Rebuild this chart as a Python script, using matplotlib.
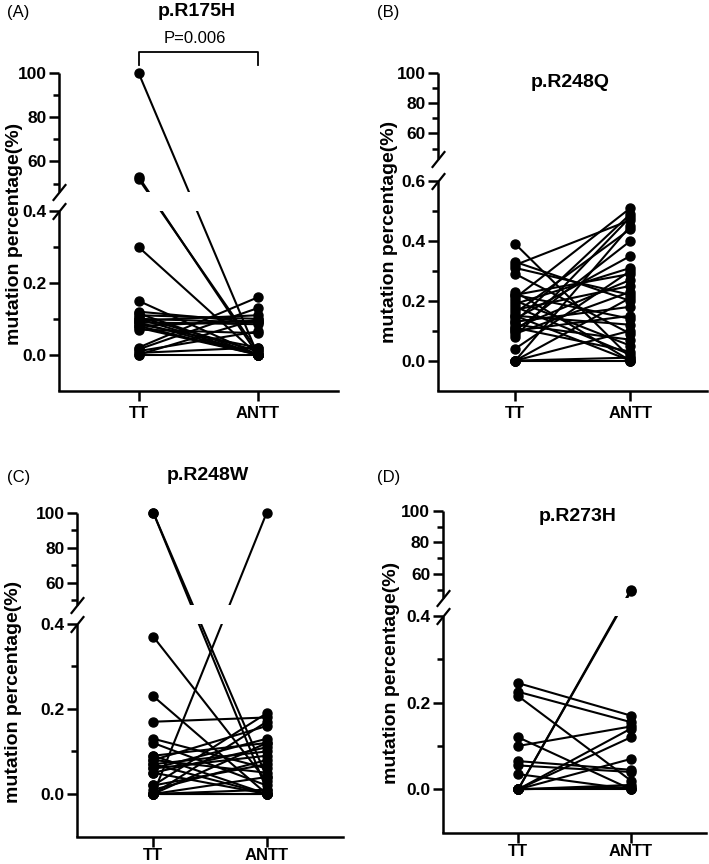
import numpy as np
import matplotlib
matplotlib.use('Agg')
import matplotlib.pyplot as plt
from matplotlib import transforms
from matplotlib.path import Path

plt.rcParams['font.family'] = ['Liberation Sans', 'Noto Sans CJK SC']

groups = ['TT', 'ANTT']

# p.R175H paired values (%)
r175h_tt = [100, 53, 52, 0.30, 0.15, 0.12, 0.115, 0.11, 0.105, 0.10, 0.10, 0.095, 0.09,
            0.09, 0.085, 0.08, 0.08, 0.075, 0.07, 0.02, 0.015, 0.01, 0.005, 0.0, 0.0]
r175h_antt = [0.0, 0.0, 0.01, 0.0, 0.0, 0.09, 0.0, 0.10, 0.01, 0.09, 0.0, 0.11, 0.0,
              0.085, 0.02, 0.0, 0.095, 0.0, 0.06, 0.16, 0.13, 0.065, 0.02, 0.10, 0.0]

# p.R248Q
r248q_tt = [0.39, 0.33, 0.32, 0.31, 0.29, 0.23, 0.22, 0.22, 0.21, 0.20, 0.19, 0.18, 0.17,
            0.16, 0.15, 0.15, 0.14, 0.13, 0.13, 0.12, 0.11, 0.11, 0.10, 0.10, 0.09, 0.08,
            0.04, 0.0, 0.0, 0.0, 0.0, 0.0]
r248q_antt = [0.01, 0.20, 0.47, 0.22, 0.09, 0.00, 0.29, 0.14, 0.51, 0.05, 0.31, 0.02, 0.25,
              0.44, 0.12, 0.00, 0.35, 0.49, 0.18, 0.07, 0.27, 0.03, 0.40, 0.15, 0.23, 0.48,
              0.30, 0.00, 0.01, 0.45, 0.10, 0.21]

# p.R248W
r248w_tt = [100, 100, 0.37, 0.23, 0.17, 0.13, 0.12, 0.09, 0.09, 0.08, 0.08, 0.07, 0.07,
            0.06, 0.06, 0.05, 0.05, 0.02, 0.02, 0.01, 0.0, 0.0, 0.0, 0.0, 0.0, 0.0, 0.0]
r248w_antt = [0.01, 0.04, 0.03, 0.0, 0.18, 0.06, 0.02, 0.12, 0.0, 0.16, 0.05, 0.10, 0.0,
              0.13, 0.09, 0.0, 0.11, 0.19, 0.07, 0.08, 100, 0.17, 0.0, 0.04, 0.12, 0.01, 0.0]

# p.R273H
r273h_tt = [0.245, 0.225, 0.215, 0.12, 0.10, 0.065, 0.055, 0.035, 0.0, 0.0, 0.0, 0.0,
            0.0, 0.0, 0.0, 0.0]
r273h_antt = [0.17, 0.155, 0.02, 0.0, 0.145, 0.045, 0.04, 0.0, 50, 49, 0.14, 0.12,
              0.07, 0.01, 0.0, 0.005]

W, H = 709, 864


def fx(x):
    return x / W


def fy(y):
    return 1 - y / H


def broken(lo_top, up_bot, gap, k):
    # piecewise linear scale: lower part linear, gap squeezed, upper part compressed
    span = up_bot - lo_top

    def fwd(y):
        y = np.asarray(y, dtype=float)
        mid = lo_top + (y - lo_top) / span * gap
        up = lo_top + gap + (y - up_bot) * k
        return np.where(y <= lo_top, y, np.where(y >= up_bot, up, mid))

    def inv(v):
        v = np.asarray(v, dtype=float)
        mid = lo_top + (v - lo_top) / gap * span
        up = up_bot + (v - lo_top - gap) / k
        return np.where(v <= lo_top, v, np.where(v >= lo_top + gap, up, mid))
    return fwd, inv


slash = Path([(-0.8, -1.0), (0.8, 1.0)], [Path.MOVETO, Path.LINETO])


def panel(left, top, width, height, tt, antt, lo_top, up_bot, gap, k, lo_major, lo_minor,
          xpad=4):
    ax = fig.add_axes([fx(left), fy(top + height), width / W, height / H])
    ax.set_yscale('function', functions=broken(lo_top, up_bot, gap, k))
    for a, b in zip(tt, antt):
        ax.plot([0, 1], [a, b], color='black', lw=1.5, marker='o', ms=6.5,
                zorder=2, clip_on=False)
    ax.axhspan(lo_top, up_bot, color='white', zorder=3, lw=0)

    for s in ['top', 'right', 'left']:
        ax.spines[s].set_visible(False)
    ax.spines['bottom'].set_linewidth(1.8)

    tr = transforms.blended_transform_factory(ax.transAxes, ax.transData)
    ax.plot([0, 0], [-0.1, lo_top], transform=tr, color='black', lw=1.8,
            clip_on=False, zorder=4, solid_capstyle='butt')
    ax.plot([0, 0], [up_bot, 100], transform=tr, color='black', lw=1.8,
            clip_on=False, zorder=4, solid_capstyle='butt')
    ax.plot([0, 0], [lo_top, up_bot], transform=tr, ls='none', marker=slash, ms=12,
            mew=1.6, color='black', clip_on=False, zorder=5)

    major = lo_major + [60, 80, 100]
    labels = ['%.1f' % v for v in lo_major] + ['60', '80', '100']
    ax.set_yticks(major, labels, fontweight='bold', fontsize=12.5)
    ax.set_yticks(lo_minor + [50, 70, 90], minor=True)
    ax.set_xticks([0, 1], groups, fontweight='bold', fontsize=12)
    ax.tick_params(axis='both', which='major', length=7, width=1.8, pad=2)
    ax.tick_params(axis='y', which='minor', length=4, width=1.8)
    ax.tick_params(axis='x', pad=xpad)
    ax.set_xlim(-0.67, 1.67)
    ax.set_ylim(-0.1, 100)
    return ax


fig = plt.figure(figsize=(W / 100, H / 100), dpi=100)

axA = panel(59, 73.3, 278.5, 317.2, r175h_tt, r175h_antt, 0.4, 46, 0.053, 0.006154,
            [0.0, 0.2, 0.4], [0.1, 0.3])
axB = panel(438.3, 72.7, 269, 317.8, r248q_tt, r248q_antt, 0.6, 43, 0.0737, 0.005079,
            [0.0, 0.2, 0.4, 0.6], [0.1, 0.3, 0.5])
axC = panel(77.3, 512.7, 265.4, 323.8, r248w_tt, r248w_antt, 0.4, 47.3, 0.0447, 0.004118,
            [0.0, 0.2, 0.4], [0.1, 0.3], xpad=1)
axD = panel(442.7, 510.7, 263.7, 321.9, r273h_tt, r273h_antt, 0.4, 44.9, 0.0416, 0.003656,
            [0.0, 0.2, 0.4], [0.1, 0.3], xpad=1)

# significance bracket on panel A
trA = transforms.blended_transform_factory(axA.transData, axA.transAxes)
axA.plot([0, 0, 1, 1], [1.026, 1.068, 1.068, 1.026], transform=trA, color='black',
         lw=1.3, clip_on=False)
fig.text(fx(195), fy(38.3), 'P=0.006', ha='center', va='center', fontsize=12)

titles = [('p.R175H', 196.7, 11.7), ('p.R248Q', 570, 82.7),
          ('p.R248W', 208, 475), ('p.R273H', 578, 516.7)]
for t, x, y in titles:
    fig.text(fx(x), fy(y), t, ha='center', va='center', fontsize=14, fontweight='bold')

for t, x, y in [('(A)', 7, 12), ('(B)', 377, 12), ('(C)', 7, 477), ('(D)', 377, 477)]:
    fig.text(fx(x), fy(y), t, ha='left', va='center', fontsize=12)

ylab = 'mutation percentage(%)'
for x, y in [(15, 234), (389.3, 232), (13.3, 692), (391.7, 673)]:
    fig.text(fx(x), fy(y), ylab, ha='center', va='center', rotation=90,
             fontsize=14, fontweight='bold')

fig.savefig('out.png', dpi=100)
